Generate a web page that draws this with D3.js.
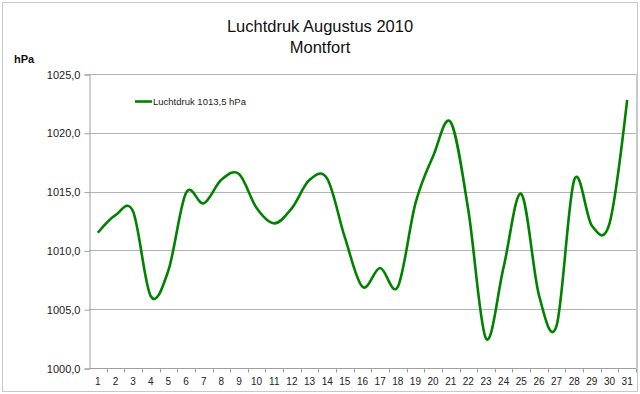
<!DOCTYPE html>
<meta charset="utf-8">
<style>
body { margin: 0; background: #fff; }
text { font-family: "Liberation Sans", Arial, sans-serif; }
</style>
<svg id="chart" width="640" height="394"></svg>
<script src="https://cdn.jsdelivr.net/npm/d3@7"></script>
<script>

var days = d3.range(1, 32);
var pressure = [1011.5, 1013.0, 1013.3, 1006.1, 1008.3, 1014.9, 1014.0, 1016.0, 1016.5, 1013.6,
	1012.3, 1013.6, 1016.0, 1016.1, 1011.1, 1006.9, 1008.5, 1006.9, 1014.0, 1018.0,
	1020.9, 1013.4, 1002.5, 1008.6, 1014.8, 1006.2, 1003.6, 1016.0, 1012.1, 1012.3, 1022.8];
var yTicks = [1000, 1005, 1010, 1015, 1020, 1025];
var titleLines = ["Luchtdruk Augustus 2010", "Montfort"];
var legendLabel = "Luchtdruk 1013,5 hPa";

var svg = d3.select("#chart");
var width = 640, height = 394;
var margin = {left: 89, right: 4, top: 74, bottom: 26};

// outer frame
svg.append("rect")
	.attr("x", 2.5).attr("y", 2.5)
	.attr("width", width - 5).attr("height", height - 5)
	.attr("fill", "#fff")
	.attr("stroke", "#c8c8c8");

var x = d3.scaleBand()
	.domain(days)
	.range([margin.left, width - margin.right]);

var y = d3.scaleLinear()
	.domain([1000, 1025])
	.range([height - margin.bottom, margin.top]);

var fmt = function(d){ return d3.format(".1f")(d).replace(".", ","); };

// gridlines
svg.append("g")
	.selectAll("line")
	.data(yTicks)
	.enter().append("line")
	.attr("x1", margin.left).attr("x2", width - margin.right)
	.attr("y1", function(d){ return Math.round(y(d)) + 0.5; })
	.attr("y2", function(d){ return Math.round(y(d)) + 0.5; })
	.attr("stroke", "#b4b4b4");

// y axis
var yAxis = svg.append("g")
	.attr("transform", "translate(" + (margin.left + 0.5) + ",0.5)")
	.call(d3.axisLeft(y).tickValues(yTicks).tickFormat(fmt).tickSize(5).tickPadding(4));
yAxis.select(".domain").attr("stroke", "#a0a0a0");
yAxis.selectAll(".tick line").attr("stroke", "#a0a0a0");
yAxis.selectAll("text").attr("font-size", 11).attr("fill", "#222");

// x axis
var xAxis = svg.append("g")
	.attr("transform", "translate(0," + (height - margin.bottom + 0.5) + ")");
xAxis.append("line")
	.attr("x1", margin.left).attr("x2", width - margin.right)
	.attr("stroke", "#a0a0a0");
xAxis.selectAll(".tk")
	.data(days)
	.enter().append("line")
	.attr("class", "tk")
	.attr("x1", function(d){ return Math.round(x(d) + x.bandwidth()) + 0.5; })
	.attr("x2", function(d){ return Math.round(x(d) + x.bandwidth()) + 0.5; })
	.attr("y1", 0).attr("y2", 4)
	.attr("stroke", "#a0a0a0");
xAxis.selectAll("text")
	.data(days)
	.enter().append("text")
	.attr("x", function(d){ return x(d) + x.bandwidth() / 2; })
	.attr("y", 16)
	.attr("text-anchor", "middle")
	.attr("font-size", 10)
	.attr("fill", "#222")
	.text(function(d){ return d; });

// right plot border
svg.append("line")
	.attr("x1", width - margin.right + 0.5).attr("x2", width - margin.right + 0.5)
	.attr("y1", margin.top).attr("y2", height - margin.bottom)
	.attr("stroke", "#c8c8c8");

// line
var line = d3.line()
	.x(function(d, i){ return x(days[i]) + x.bandwidth() / 2; })
	.y(function(d){ return y(d); })
	.curve(d3.curveCardinal.tension(0));

svg.append("path")
	.datum(pressure)
	.attr("d", line)
	.attr("fill", "none")
	.attr("stroke", "#008200")
	.attr("stroke-width", 2.6);

// titles
svg.selectAll(".title")
	.data(titleLines)
	.enter().append("text")
	.attr("x", 320)
	.attr("y", function(d, i){ return 32 + i * 21; })
	.attr("text-anchor", "middle")
	.attr("font-size", 16.5)
	.attr("fill", "#111")
	.text(function(d){ return d; });

svg.append("text")
	.attr("x", 14).attr("y", 63)
	.attr("font-size", 11).attr("font-weight", "bold")
	.attr("fill", "#111")
	.text("hPa");

// legend
svg.append("line")
	.attr("x1", 135).attr("x2", 152)
	.attr("y1", 101.5).attr("y2", 101.5)
	.attr("stroke", "#008200").attr("stroke-width", 2.6);
svg.append("text")
	.attr("x", 153).attr("y", 105)
	.attr("font-size", 9.5)
	.attr("fill", "#222")
	.text(legendLabel);

</script>
</html>
